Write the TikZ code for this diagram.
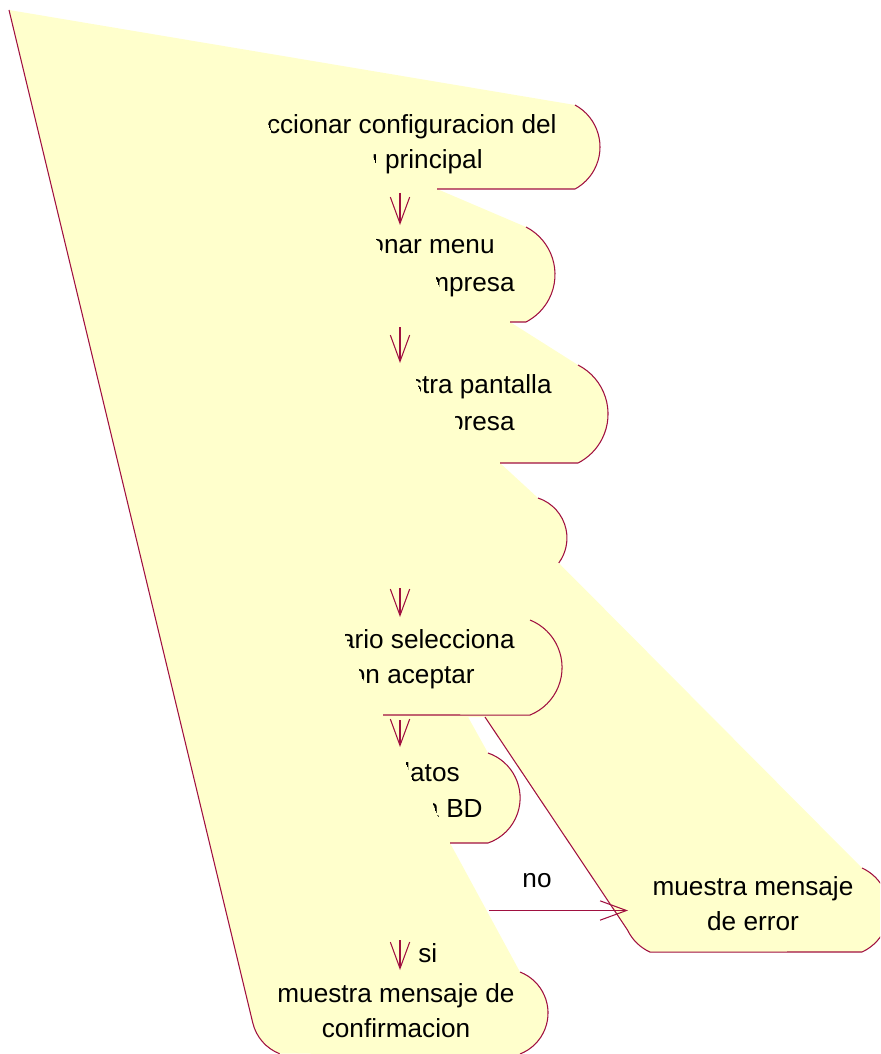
\documentclass[tikz,border=0pt]{standalone}
\usepackage{fontspec}
\setmainfont{Liberation Sans}
\usetikzlibrary{arrows.meta}

\definecolor{statefill}{RGB}{255,255,204}
\definecolor{stateline}{RGB}{160,16,64}

% text of a state, cut on the left where a later fill covers it
% #1 name, #2 cut x, #3 right end x, #4 baseline y, #5 text
\newcommand{\cuttext}[5]{%
  \begin{scope}
    \clip (#2-8,#4-30) -- (#2+8,#4+10) -- (900,#4+10) -- (900,#4-30) -- cycle;
    \node[txt, anchor=base east] (#1) at (#3,#4) {#5};
  \end{scope}}

\begin{document}
\begin{tikzpicture}[
  x=0.02cm, y=-0.02cm,
  every node/.style={inner sep=0pt},
  outline/.style={draw=stateline, line width=0.6pt},
  flow/.style={draw=stateline, line width=0.6pt,
    -{Straight Barb[length=15pt, width=11pt]}},
  txt/.style={font=\fontsize{14.9}{19.8}\selectfont, align=center}]

  \useasboundingbox (0,0) rectangle (880,1054);
  \clip (0,0) rectangle (880,1054);

  % --- the fill: every state runs into the one corner at the top left ---
  \fill[statefill] (9,10) -- (575,105)
    arc[start angle=-61.5, end angle=61.5, radius=47.8] -- (437,189) -- (526,227)
    arc[start angle=-62.8, end angle=62.8, radius=53.4] -- (510,322) -- (578,365)
    arc[start angle=-63, end angle=63, radius=55] -- (500,463) -- (538,498)
    arc[start angle=-71.8, end angle=36.4, radius=42.1] -- (862,868)
    arc[start angle=-65.4, end angle=65.4, radius=46.2] -- (650,952)
    arc[start angle=114.6, end angle=154.4, radius=46.2] -- (485,717)
    -- (468,717) -- (488,753)
    arc[start angle=-71, end angle=71, radius=47.6] -- (450,843) -- (520,972)
    arc[start angle=-68.7, end angle=68.7, radius=44] -- (279.6,1053.7)
    arc[start angle=111.3, end angle=166.5, radius=44] -- cycle;

  % --- outlines that are left showing ---
  \draw[outline] (9,10) -- (252.8,1023)
    arc[start angle=166.5, end angle=111.3, radius=44];
  \draw[outline] (575,105) arc[start angle=-61.5, end angle=61.5, radius=47.8] -- (437,189);
  \draw[outline] (526,227) arc[start angle=-62.8, end angle=62.8, radius=53.4] -- (510,322);
  \draw[outline] (578,365) arc[start angle=-63, end angle=63, radius=55] -- (500,463);
  \draw[outline] (538,498) arc[start angle=-71.8, end angle=36.4, radius=42.1];
  \draw[outline] (530,620) arc[start angle=-68, end angle=68, radius=51.25] -- (383,715);
  \draw[outline] (488,753) arc[start angle=-71, end angle=71, radius=47.6] -- (450,843);
  \draw[outline] (485,717) -- (627.5,930)
    arc[start angle=154.4, end angle=114.6, radius=46.2] -- (862,952)
    arc[start angle=65.4, end angle=-65.4, radius=46.2];
  \draw[outline] (520,972) arc[start angle=-68.7, end angle=68.7, radius=44];

  % --- state texts ---
  \cuttext{selcfg1}{268}{557}{134}{Seleccionar configuracion del}
  \cuttext{selcfg2}{374}{483}{169}{menu principal}
  \cuttext{selemp1}{378}{495}{254}{Seleccionar menu}
  \cuttext{selemp2}{437}{515}{291}{empresa}
  \cuttext{mospan1}{417}{552}{393}{muestra pantalla}
  \cuttext{mospan2}{456}{515}{430}{empresa}
  \cuttext{usracp1}{346}{515}{648}{usuario selecciona}
  \cuttext{usracp2}{360}{475}{683}{boton aceptar}
  \cuttext{datbd1}{409}{460}{781}{datos}
  \cuttext{datbd2}{434}{483}{817}{la BD}

  \node[txt] (msgerr) at (753,904) {muestra mensaje\\de error};
  \node[txt] (msgconf) at (396,1011) {muestra mensaje de\\confirmacion};

  % --- transitions ---
  \coordinate (t1s) at (400,193);
  \coordinate (t1e) at (400,225);
  \coordinate (t2s) at (400,327);
  \coordinate (t2e) at (400,363);
  \coordinate (t3s) at (400,588);
  \coordinate (t3e) at (400,617);
  \coordinate (t4s) at (400,720);
  \coordinate (t4e) at (400,747);
  \coordinate (t5s) at (400,940);
  \coordinate (t5e) at (400,970);
  \coordinate (t6s) at (489,910.5);
  \coordinate (t6e) at (628,910.5);

  \draw[flow] (t1s) -- (t1e);
  \draw[flow] (t2s) -- (t2e);
  \draw[flow] (t3s) -- (t3e);
  \draw[flow] (t4s) -- (t4e);
  \draw[flow] (t5s) -- (t5e);
  \draw[flow] (t6s) -- (t6e);

  \node[txt, anchor=base west] (lblsi) at (418,962) {si};
  \node[txt, anchor=base] (lblno) at (537,887) {no};

\end{tikzpicture}
\end{document}
